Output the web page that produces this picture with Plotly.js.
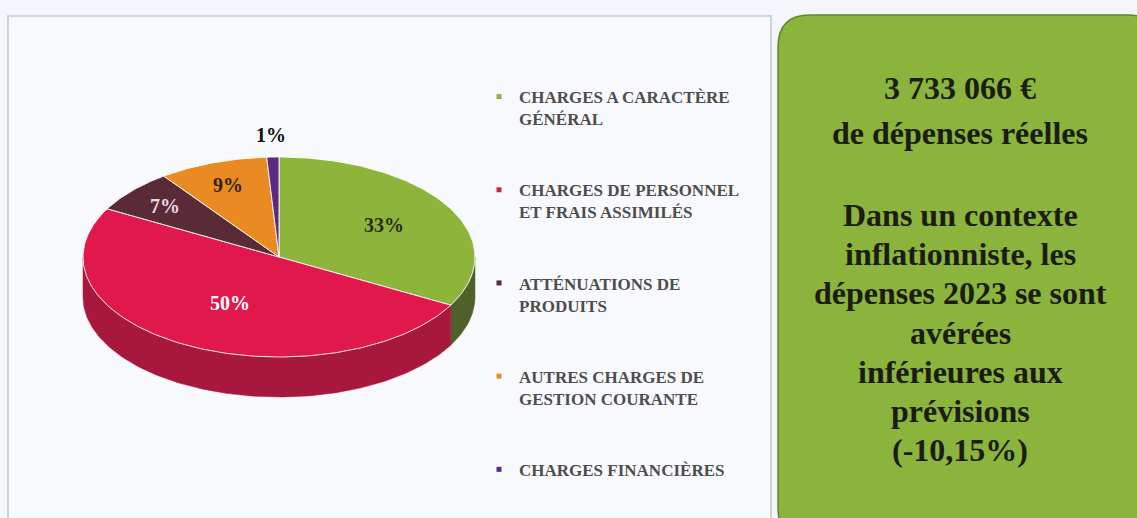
<!DOCTYPE html>
<html><head><meta charset="utf-8">
<script src="https://cdn.plot.ly/plotly-3.0.1.min.js"></script>
<style>html,body{margin:0;padding:0;background:#f4f6fb;}#chart{width:1137px;height:518px;}</style>
</head><body><div id="chart"></div>
<script>
// ---- data ----
const categories = [
  'CHARGES A CARACTÈRE<br>GÉNÉRAL',
  'CHARGES DE PERSONNEL<br>ET FRAIS ASSIMILÉS',
  'ATTÉNUATIONS DE<br>PRODUITS',
  'AUTRES CHARGES DE<br>GESTION COURANTE',
  'CHARGES FINANCIÈRES'
];
const shares = [33, 50, 7, 9, 1];
const boxLines = [
  '3 733 066 €',
  'de dépenses réelles',
  'Dans un contexte',
  'inflationniste, les',
  'dépenses 2023 se sont',
  'avérées',
  'inférieures aux',
  'prévisions',
  '(-10,15%)'
];

// ---- style ----
const topColors  = ['#8db53c', '#e0184b', '#5a2a37', '#e98a22', '#5b2a82'];
const sideColors = ['#4f602b', '#a8173d', '#3e1c26', '#a8601a', '#3c1a57'];
const labelColors = ['#2a2a1a', '#ffffff', '#e8dce2', '#2e2418', '#111111'];
const serif = '"Liberation Serif", "DejaVu Serif", serif';

const cx = 279, cy = 257, rx = 196, ry = 100, depth = 40;
function pt(th, dy) { const r = th * Math.PI / 180; return [cx + rx * Math.sin(r), cy - ry * Math.cos(r) + (dy || 0)]; }
function arc(a, b, dy) { const n = Math.max(2, Math.ceil(Math.abs(b - a))); const out = []; for (let i = 0; i <= n; i++) out.push(pt(a + (b - a) * i / n, dy)); return out; }

const total = shares.reduce((s, v) => s + v, 0);
const starts = [], ends = [];
let acc = 0;
shares.forEach(v => { starts.push(acc / total * 360); acc += v; ends.push(acc / total * 360); });

const traces = [];
// side faces (visible front half: 90..270 deg)
shares.forEach((v, i) => {
  const a = Math.max(starts[i], 90), b = Math.min(ends[i], 270);
  if (b <= a) return;
  const top = arc(a, b, 0), bot = arc(b, a, depth);
  const pts = top.concat(bot); pts.push(top[0]);
  traces.push({type: 'scatter', mode: 'lines', x: pts.map(p => p[0]), y: pts.map(p => p[1]),
    fill: 'toself', fillcolor: sideColors[i], line: {color: sideColors[i], width: 0.5},
    showlegend: false, hoverinfo: 'skip'});
});
// top faces
shares.forEach((v, i) => {
  const pts = [[cx, cy]].concat(arc(starts[i], ends[i], 0)); pts.push([cx, cy]);
  traces.push({type: 'scatter', mode: 'lines', x: pts.map(p => p[0]), y: pts.map(p => p[1]),
    fill: 'toself', fillcolor: topColors[i], line: {color: 'rgba(255,255,255,0.85)', width: 1},
    name: categories[i], showlegend: false, hoverinfo: 'name'});
});
// legend entries
shares.forEach((v, i) => {
  traces.push({type: 'scatter', mode: 'markers', x: [null], y: [null], name: categories[i],
    legendgroup: 'g' + i, marker: {symbol: 'square', size: 5, color: topColors[i]}, hoverinfo: 'skip'});
});

const annotations = [];
shares.forEach((v, i) => {
  const frac = v / total;
  const mid = (starts[i] + ends[i]) / 2;
  const f = frac < 0.03 ? 1.22 : 0.82 - 0.6 * frac;
  const r = mid * Math.PI / 180;
  annotations.push({x: cx + rx * f * Math.sin(r), y: cy - ry * f * Math.cos(r), xref: 'x', yref: 'y',
    text: '<b>' + Math.round(frac * 100) + '%</b>', showarrow: false,
    font: {family: serif, size: 20, color: labelColors[i]}});
});
const boxY = [88, 133, 215, 254, 293, 333, 372, 411, 450];
boxLines.forEach((t, i) => {
  annotations.push({x: 960, y: boxY[i], xref: 'x', yref: 'y', text: '<b>' + t + '</b>', showarrow: false,
    font: {family: serif, size: 32, color: '#1c1c14'}});
});

const R = 32, bx0 = 778, by0 = 15, bx1 = 1160, by1 = 540;
const boxPath = `M ${bx0 + R},${by0} L ${bx1 - R},${by0} Q ${bx1},${by0} ${bx1},${by0 + R} L ${bx1},${by1 - R} Q ${bx1},${by1} ${bx1 - R},${by1} L ${bx0 + R},${by1} Q ${bx0},${by1} ${bx0},${by1 - R} L ${bx0},${by0 + R} Q ${bx0},${by0} ${bx0 + R},${by0} Z`;

const layout = {
  width: 1137, height: 518,
  margin: {l: 0, r: 0, t: 0, b: 0},
  paper_bgcolor: '#f4f6fb', plot_bgcolor: 'rgba(0,0,0,0)',
  xaxis: {range: [0, 1137], visible: false, fixedrange: true},
  yaxis: {range: [518, 0], visible: false, fixedrange: true},
  showlegend: true,
  legend: {x: 479 / 1137, y: 1 - 79 / 518, xanchor: 'left', yanchor: 'top', valign: 'top',
    traceorder: 'grouped', tracegroupgap: 46, bgcolor: 'rgba(0,0,0,0)',
    font: {family: serif, size: 17, color: '#4d4d4d', weight: 'bold'}},
  shapes: [
    {type: 'rect', xref: 'x', yref: 'y', x0: 8, y0: 16, x1: 771, y1: 540, layer: 'below',
      fillcolor: '#f8f9fc', line: {color: '#cfd3dc', width: 2}},
    {type: 'path', xref: 'x', yref: 'y', path: boxPath, layer: 'below',
      fillcolor: '#8ab43b', line: {color: '#5e862a', width: 1.5}}
  ],
  annotations: annotations
};
Plotly.newPlot('chart', traces, layout, {displayModeBar: false, staticPlot: true});
</script></body></html>
